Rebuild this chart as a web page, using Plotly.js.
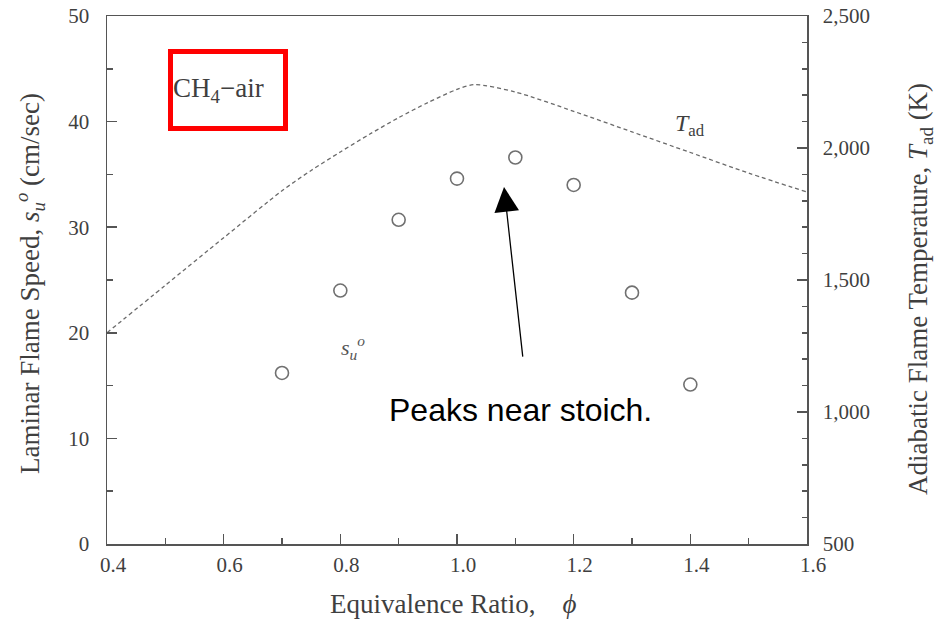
<!DOCTYPE html>
<html>
<head>
<meta charset="utf-8">
<script src="https://cdn.plot.ly/plotly-3.0.1.min.js"></script>
<style>html,body{margin:0;padding:0;background:#fff;}#chart{width:944px;height:622px;}</style>
</head>
<body>
<div id="chart"></div>
<script>
// Laminar flame speed data (open circles)
var phiSu = [0.7, 0.8, 0.9, 1.0, 1.1, 1.2, 1.3, 1.4];
var suCmS = [16.2, 24.0, 30.7, 34.6, 36.6, 34.0, 23.8, 15.1];

// Adiabatic flame temperature (dashed curve, right axis)
var phiTad = [0.4, 0.5, 0.6, 0.7, 0.75, 0.8, 0.85, 0.9, 0.95, 1.0, 1.03, 1.1, 1.2, 1.3, 1.4, 1.5, 1.6];
var tadK = [1300, 1480, 1660, 1838, 1915, 1985, 2052, 2115, 2172, 2222, 2240, 2212, 2139, 2061, 1983, 1905, 1833];

var serif = 'Liberation Serif, Times New Roman, serif';
var txt = '#3f3f3f';
var axc = '#555555';

var traces = [
  {
    x: phiTad, y: tadK, yaxis: 'y2', type: 'scatter', mode: 'lines',
    line: {color: '#6a6a6a', width: 1.3, dash: '4px,3px', shape: 'spline', smoothing: 0.8},
    hoverinfo: 'skip', showlegend: false
  },
  {
    x: phiSu, y: suCmS, type: 'scatter', mode: 'markers',
    marker: {symbol: 'circle-open', size: 13, color: '#707070', line: {width: 1.6, color: '#707070'}},
    showlegend: false
  }
];

var tickFont = {family: serif, size: 21, color: txt};
var common = {
  ticks: 'inside', ticklen: 10, tickwidth: 1.5, tickcolor: axc,
  showline: true, linecolor: axc, linewidth: 1.5,
  showgrid: false, zeroline: false, tickfont: tickFont
};

var layout = {
  width: 944, height: 622,
  margin: {l: 107, r: 137, t: 16, b: 78, pad: 0},
  paper_bgcolor: '#fff', plot_bgcolor: '#fff',
  showlegend: false,
  xaxis: Object.assign({}, common, {
    range: [0.4, 1.6], tick0: 0.4, dtick: 0.2, tickformat: '.1f', mirror: true,
    ticklabelstandoff: 1, ticklabelshift: 6,
    minor: {dtick: 0.1, ticks: 'inside', ticklen: 6, tickwidth: 1.5, tickcolor: axc, showgrid: false}
  }),
  yaxis: Object.assign({}, common, {
    range: [0, 50], tick0: 0, dtick: 10, ticklabelstandoff: 12,
    minor: {dtick: 5, ticks: 'inside', ticklen: 6, tickwidth: 1.5, tickcolor: axc, showgrid: false}
  }),
  yaxis2: Object.assign({}, common, {
    overlaying: 'y', side: 'right',
    range: [500, 2500], tick0: 500, dtick: 500, tickformat: ',d', ticklabelstandoff: 10,
    minor: {dtick: 100, ticks: 'inside', ticklen: 5, tickwidth: 1.5, tickcolor: axc, showgrid: false}
  }),
  annotations: [
    {xref: 'paper', yref: 'paper', x: 0, y: 0.4924, xshift: -77, xanchor: 'center', yanchor: 'middle',
     textangle: -90, showarrow: false,
     text: 'Laminar Flame Speed, <i>s</i><sub><i>u</i></sub><sup><i>o</i></sup> (cm/sec)',
     font: {family: serif, size: 27, color: txt}},
    {xref: 'paper', yref: 'paper', x: 1, y: 0.483, xshift: 113, xanchor: 'center', yanchor: 'middle',
     textangle: -90, showarrow: false,
     text: 'Adiabatic Flame Temperature, <i>T</i><sub>ad</sub> (K)',
     font: {family: serif, size: 27, color: txt}},
    {xref: 'paper', yref: 'paper', x: 0.494, y: 0, yshift: -60, xanchor: 'center', yanchor: 'middle',
     showarrow: false,
     text: 'Equivalence Ratio,    <i>ϕ</i>',
     font: {family: serif, size: 27, color: txt}},
    {xref: 'x', yref: 'y', x: 0.608, y: 43.04, xanchor: 'center', yanchor: 'middle', showarrow: false,
     text: 'CH<sub>4</sub>−air', align: 'left',
     width: 110, height: 72, borderwidth: 5, borderpad: 0, bordercolor: '#ff0000',
     font: {family: serif, size: 27, color: txt}},
    {xref: 'x', yref: 'y', x: 0.822, y: 18.6, showarrow: false,
     text: '<i>s</i><sub><i>u</i></sub><sup><i>o</i></sup>',
     font: {family: serif, size: 22, color: '#555'}},
    {xref: 'x', yref: 'y2', x: 1.4, y: 2087, showarrow: false,
     text: '<i>T</i><sub>ad</sub>',
     font: {family: serif, size: 24, color: txt}},
    {xref: 'x', yref: 'y', x: 1.0806, y: 33.8, axref: 'x', ayref: 'y', ax: 1.113, ay: 17.6,
     showarrow: true, arrowhead: 2, arrowsize: 3.8, arrowwidth: 1.3, arrowcolor: '#000', standoff: 0, text: ''},
    {xref: 'x', yref: 'y', x: 1.108, y: 12.69, showarrow: false,
     text: 'Peaks near stoich.',
     font: {family: 'Liberation Sans, Arial, sans-serif', size: 32, color: '#000'}}
  ]
};

Plotly.newPlot('chart', traces, layout, {displayModeBar: false, staticPlot: true});
</script>
</body>
</html>
